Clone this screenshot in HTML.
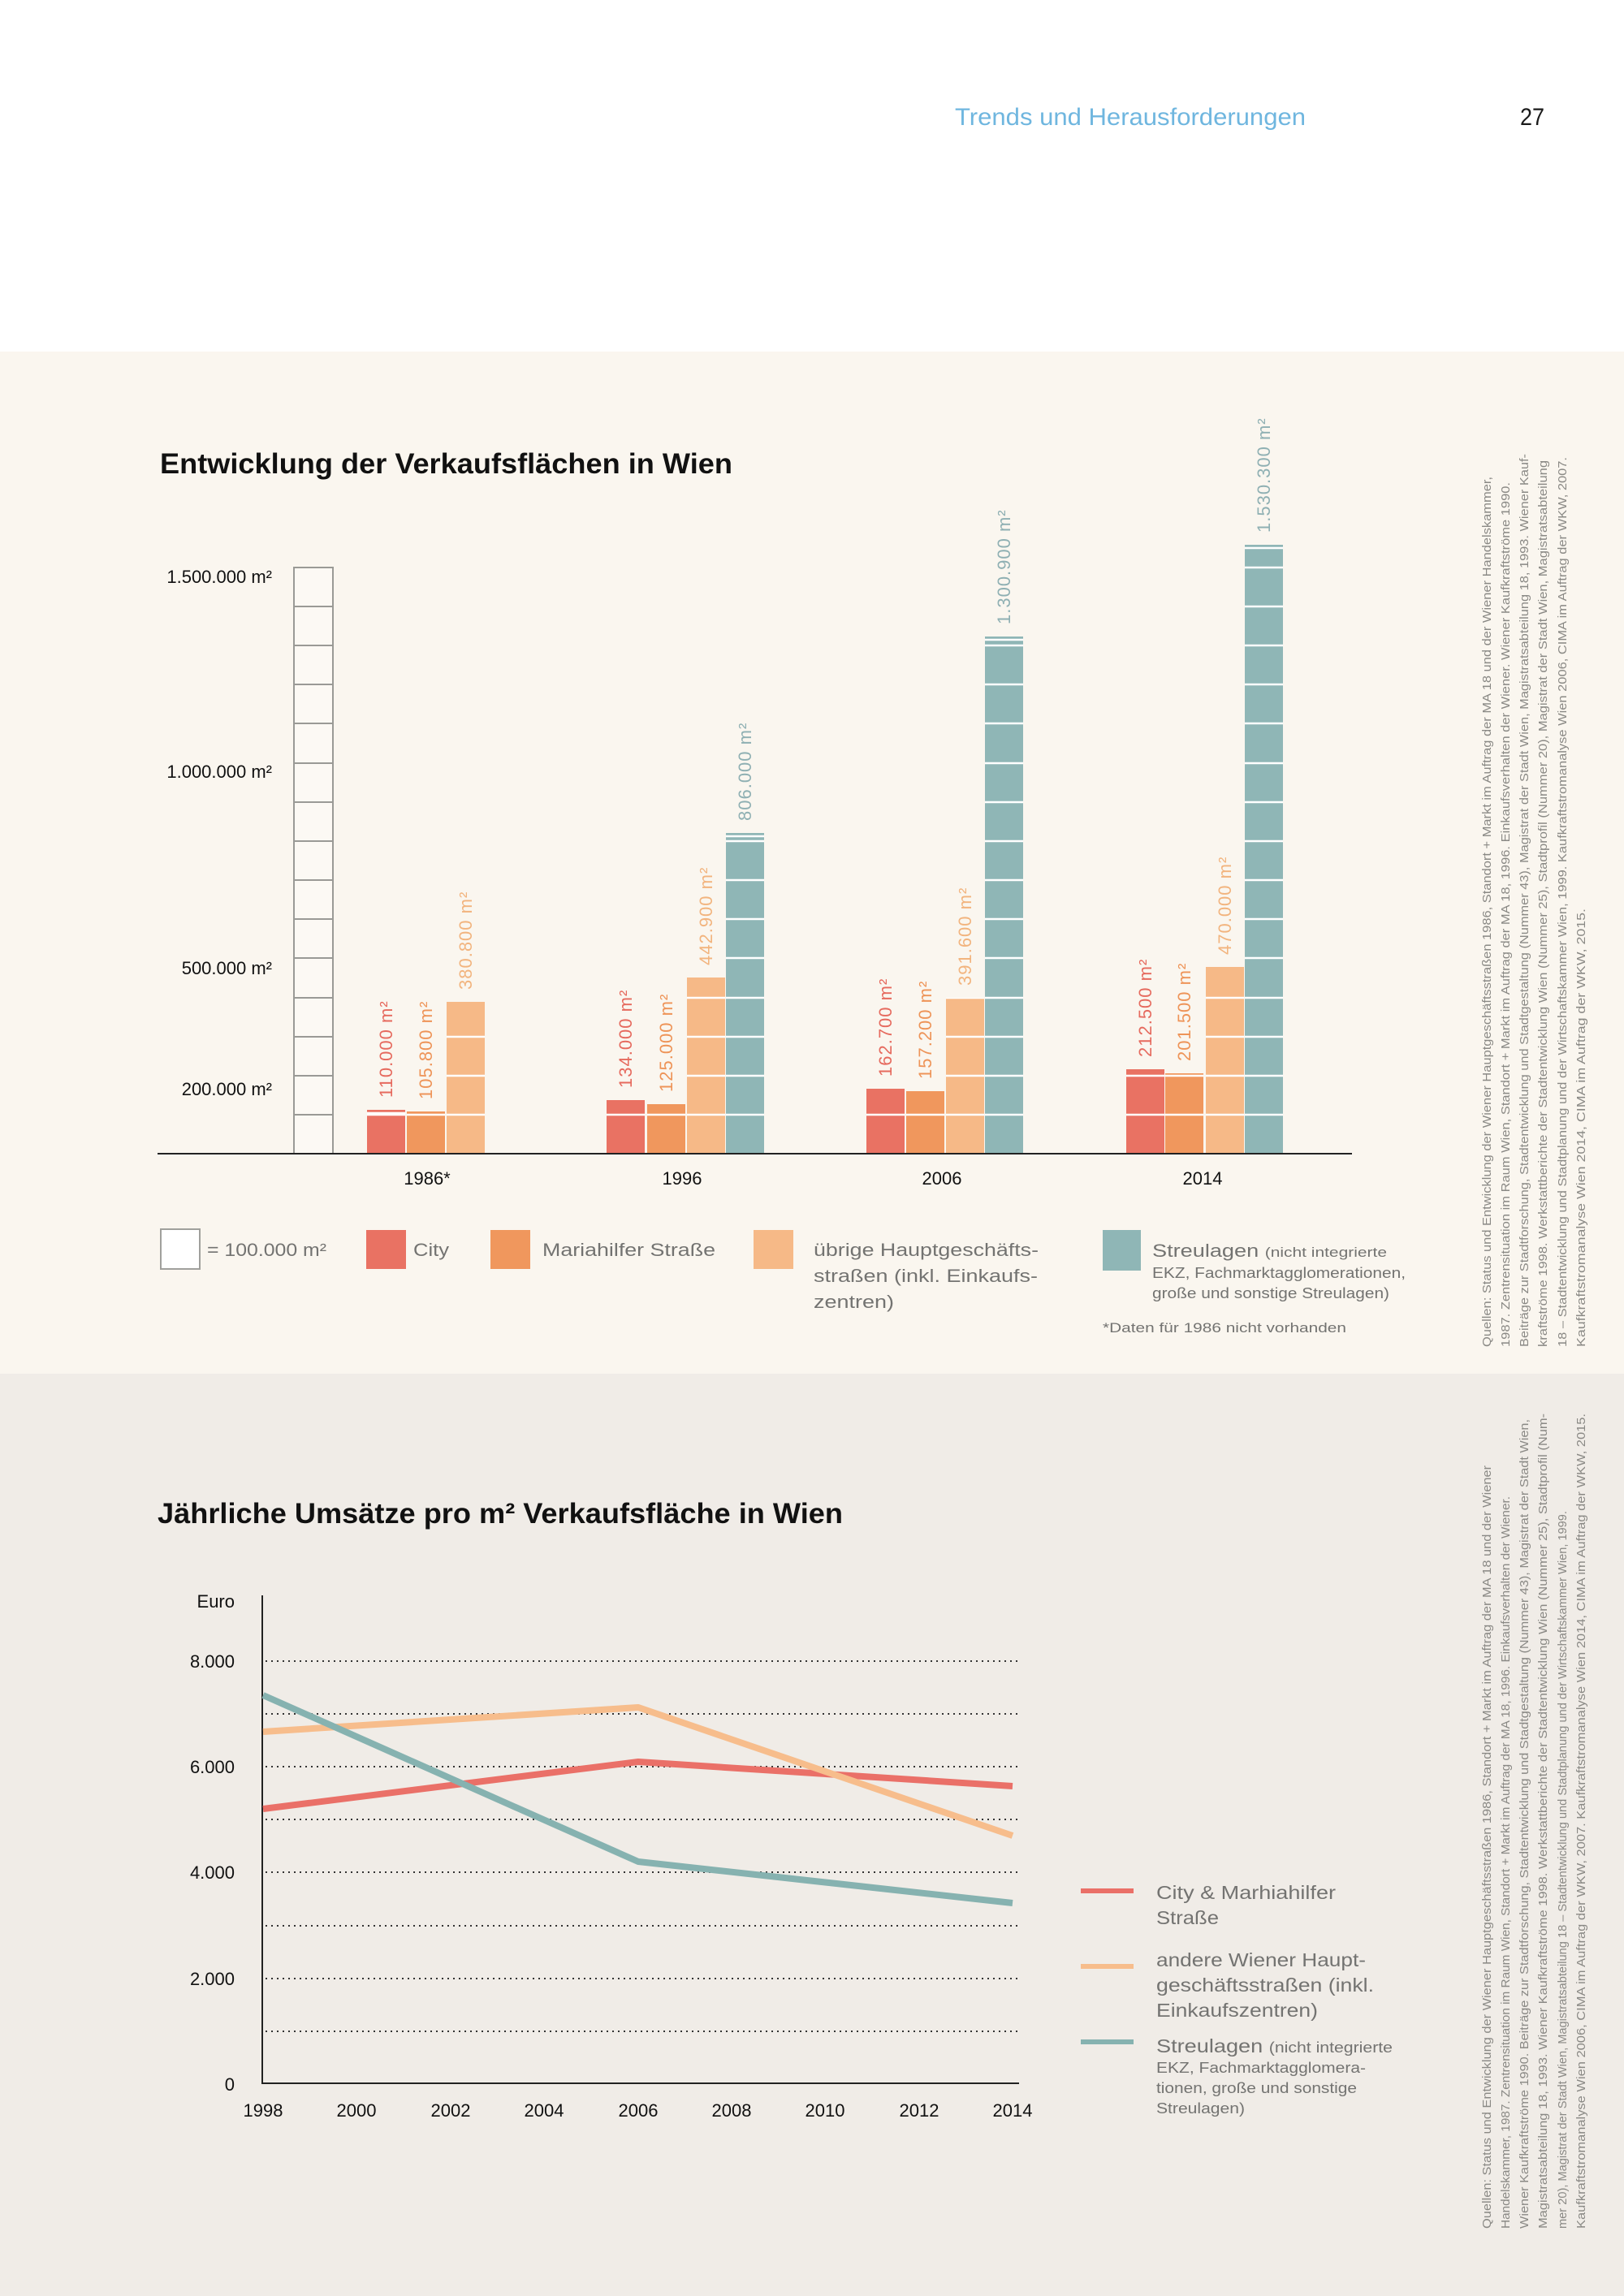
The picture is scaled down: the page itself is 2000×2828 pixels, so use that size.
<!DOCTYPE html>
<html><head><meta charset="utf-8"><style>
html,body{margin:0;padding:0;}
svg{display:block;}
text{font-family:"Liberation Sans",sans-serif;}
</style></head><body>
<svg width="2000" height="2828" viewBox="0 0 2000 2828" xmlns="http://www.w3.org/2000/svg">
<rect x="0" y="0" width="2000" height="433" fill="#ffffff"/>
<rect x="0" y="433" width="2000" height="1259" fill="#faf6ef"/>
<rect x="0" y="1692" width="2000" height="1136" fill="#f0ece7"/>

<!-- header -->
<text x="1176" y="154" font-size="30" fill="#6fb6df" textLength="432" lengthAdjust="spacingAndGlyphs">Trends und Herausforderungen</text>
<text x="1872" y="154" font-size="30" fill="#1a1a1a" textLength="30" lengthAdjust="spacingAndGlyphs">27</text>

<!-- bar chart title -->
<text x="197" y="583" font-size="35" font-weight="bold" fill="#111" textLength="705" lengthAdjust="spacingAndGlyphs">Entwicklung der Verkaufsflächen in Wien</text>

<!-- scale box -->
<g stroke="#9a9a96" stroke-width="2" fill="none">
<rect x="362" y="699" width="48" height="722" fill="#ffffff" fill-opacity="0.35"/>
<path d="M362 1373H410M362 1325H410M362 1277H410M362 1229H410M362 1180H410M362 1132H410M362 1084H410M362 1036H410M362 988H410M362 940H410M362 891H410M362 843H410M362 795H410M362 747H410"/>
</g>
<g font-size="22" fill="#111" text-anchor="end">
<text x="335" y="718">1.500.000 m²</text>
<text x="335" y="958">1.000.000 m²</text>
<text x="335" y="1200">500.000 m²</text>
<text x="335" y="1349">200.000 m²</text>
</g>

<defs>
<clipPath id="bars">
<rect x="452" y="1367" width="47" height="54"/><rect x="501" y="1369" width="47" height="52"/><rect x="550" y="1234" width="47" height="187"/>
<rect x="747" y="1355" width="47" height="66"/><rect x="797" y="1360" width="47" height="61"/><rect x="846" y="1204" width="47" height="217"/><rect x="894" y="1026" width="47" height="395"/>
<rect x="1067" y="1341" width="47" height="80"/><rect x="1116" y="1344" width="47" height="77"/><rect x="1165" y="1229" width="47" height="192"/><rect x="1213" y="784" width="47" height="637"/>
<rect x="1387" y="1317" width="47" height="104"/><rect x="1435" y="1322" width="47" height="99"/><rect x="1485" y="1191" width="47" height="230"/><rect x="1533" y="671" width="47" height="750"/>
</clipPath>
</defs>
<g>
<rect x="452" y="1367" width="47" height="54" fill="#e97263"/><rect x="501" y="1369" width="47" height="52" fill="#f0975d"/><rect x="550" y="1234" width="47" height="187" fill="#f6b987"/>
<rect x="747" y="1355" width="47" height="66" fill="#e97263"/><rect x="797" y="1360" width="47" height="61" fill="#f0975d"/><rect x="846" y="1204" width="47" height="217" fill="#f6b987"/><rect x="894" y="1026" width="47" height="395" fill="#8fb6b6"/>
<rect x="1067" y="1341" width="47" height="80" fill="#e97263"/><rect x="1116" y="1344" width="47" height="77" fill="#f0975d"/><rect x="1165" y="1229" width="47" height="192" fill="#f6b987"/><rect x="1213" y="784" width="47" height="637" fill="#8fb6b6"/>
<rect x="1387" y="1317" width="47" height="104" fill="#e97263"/><rect x="1435" y="1322" width="47" height="99" fill="#f0975d"/><rect x="1485" y="1191" width="47" height="230" fill="#f6b987"/><rect x="1533" y="671" width="47" height="750" fill="#8fb6b6"/>
</g>
<g clip-path="url(#bars)" stroke="#ffffff" stroke-width="2.5">
<path d="M440 1373H1590M440 1325H1590M440 1277H1590M440 1229H1590M440 1180H1590M440 1132H1590M440 1084H1590M440 1036H1590M440 988H1590M440 940H1590M440 891H1590M440 843H1590M440 795H1590M440 747H1590M440 699H1590"/>
<path d="M452 1371H499M894 1030H941M1213 788H1260M1533 675H1580"/>
</g>
<line x1="194" y1="1421" x2="1665" y2="1421" stroke="#222" stroke-width="2"/>

<!-- value labels -->
<g font-size="22" letter-spacing="1">
<text transform="translate(483,1352) rotate(-90)" fill="#e66a5e">110.000 m²</text>
<text transform="translate(532,1354) rotate(-90)" fill="#ee9458">105.800 m²</text>
<text transform="translate(581,1219) rotate(-90)" fill="#f2b47e">380.800 m²</text>
<text transform="translate(778,1340) rotate(-90)" fill="#e66a5e">134.000 m²</text>
<text transform="translate(828,1345) rotate(-90)" fill="#ee9458">125.000 m²</text>
<text transform="translate(877,1189) rotate(-90)" fill="#f2b47e">442.900 m²</text>
<text transform="translate(925,1011) rotate(-90)" fill="#8fb0b3">806.000 m²</text>
<text transform="translate(1098,1326) rotate(-90)" fill="#e66a5e">162.700 m²</text>
<text transform="translate(1147,1329) rotate(-90)" fill="#ee9458">157.200 m²</text>
<text transform="translate(1196,1214) rotate(-90)" fill="#f2b47e">391.600 m²</text>
<text transform="translate(1244,769) rotate(-90)" fill="#8fb0b3">1.300.900 m²</text>
<text transform="translate(1418,1302) rotate(-90)" fill="#e66a5e">212.500 m²</text>
<text transform="translate(1466,1307) rotate(-90)" fill="#ee9458">201.500 m²</text>
<text transform="translate(1516,1176) rotate(-90)" fill="#f2b47e">470.000 m²</text>
<text transform="translate(1564,656) rotate(-90)" fill="#8fb0b3">1.530.300 m²</text>
</g>

<g font-size="22" fill="#111" text-anchor="middle">
<text x="526" y="1459">1986*</text>
<text x="840" y="1459">1996</text>
<text x="1160" y="1459">2006</text>
<text x="1481" y="1459">2014</text>
</g>

<!-- legend -->
<rect x="198" y="1514" width="48" height="49" fill="#fff" stroke="#a0a09c" stroke-width="2"/>
<rect x="451" y="1515" width="49" height="48" fill="#e97263"/>
<rect x="604" y="1515" width="49" height="48" fill="#f0975d"/>
<rect x="928" y="1515" width="49" height="48" fill="#f6b987"/>
<rect x="1358" y="1515" width="47" height="50" fill="#8fb6b6"/>
<g font-size="22" fill="#737371">
<text x="255" y="1547" textLength="147" lengthAdjust="spacingAndGlyphs">= 100.000 m²</text>
<text x="509" y="1547" textLength="44" lengthAdjust="spacingAndGlyphs">City</text>
<text x="668" y="1547" textLength="213" lengthAdjust="spacingAndGlyphs">Mariahilfer Straße</text>
<text x="1002" y="1547" textLength="277" lengthAdjust="spacingAndGlyphs">übrige Hauptgeschäfts-</text>
<text x="1002" y="1579" textLength="276" lengthAdjust="spacingAndGlyphs">straßen (inkl. Einkaufs-</text>
<text x="1002" y="1611" textLength="99" lengthAdjust="spacingAndGlyphs">zentren)</text>
<text x="1419" y="1548" textLength="289" lengthAdjust="spacingAndGlyphs"><tspan font-size="22">Streulagen </tspan><tspan font-size="17">(nicht integrierte</tspan></text>
<text x="1419" y="1574" font-size="18" textLength="312" lengthAdjust="spacingAndGlyphs">EKZ, Fachmarktagglomerationen,</text>
<text x="1419" y="1599" font-size="18" textLength="292" lengthAdjust="spacingAndGlyphs">große und sonstige Streulagen)</text>
<text x="1358" y="1641" font-size="17" textLength="300" lengthAdjust="spacingAndGlyphs">*Daten für 1986 nicht vorhanden</text>
</g>

<!-- side note 1 -->
<g font-size="15" fill="#8a8985">
<text transform="translate(1836,1659) rotate(-90)" textLength="1072" lengthAdjust="spacingAndGlyphs">Quellen: Status und Entwicklung der Wiener Hauptgeschäftsstraßen 1986, Standort + Markt im Auftrag der MA 18 und der Wiener Handelskammer,</text>
<text transform="translate(1859,1659) rotate(-90)" textLength="1065" lengthAdjust="spacingAndGlyphs">1987. Zentrensituation im Raum Wien, Standort + Markt im Auftrag der MA 18, 1996. Einkaufsverhalten der Wiener. Wiener Kaufkraftströme 1990.</text>
<text transform="translate(1882,1659) rotate(-90)" textLength="1100" lengthAdjust="spacingAndGlyphs">Beiträge zur Stadtforschung, Stadtentwicklung und Stadtgestaltung (Nummer 43), Magistrat der Stadt Wien, Magistratsabteilung 18, 1993. Wiener Kauf-</text>
<text transform="translate(1905,1659) rotate(-90)" textLength="1092" lengthAdjust="spacingAndGlyphs">kraftströme 1998. Werkstattberichte der Stadtentwicklung Wien (Nummer 25), Stadtprofil (Nummer 20), Magistrat der Stadt Wien, Magistratsabteilung</text>
<text transform="translate(1929,1659) rotate(-90)" textLength="1096" lengthAdjust="spacingAndGlyphs">18 – Stadtentwicklung und Stadtplanung und der Wirtschaftskammer Wien, 1999. Kaufkraftstromanalyse Wien 2006, CIMA im Auftrag der WKW, 2007.</text>
<text transform="translate(1952,1659) rotate(-90)" textLength="540" lengthAdjust="spacingAndGlyphs">Kaufkraftstromanalyse Wien 2014, CIMA im Auftrag der WKW, 2015.</text>
</g>

<!-- line chart -->
<text x="194" y="1876" font-size="35" font-weight="bold" fill="#111" textLength="844" lengthAdjust="spacingAndGlyphs">Jährliche Umsätze pro m² Verkaufsfläche in Wien</text>
<g stroke="#333" stroke-width="2" stroke-dasharray="2,5">
<path d="M327 2046H1253M327 2111H1253M327 2176H1253M327 2241H1253M327 2306H1253M327 2372H1253M327 2437H1253M327 2502H1253"/>
</g>
<line x1="323" y1="1965" x2="323" y2="2567" stroke="#222" stroke-width="2"/>
<line x1="323" y1="2566" x2="1255" y2="2566" stroke="#222" stroke-width="2"/>
<g font-size="22" fill="#111" text-anchor="end">
<text x="289" y="1980">Euro</text>
<text x="289" y="2054">8.000</text>
<text x="289" y="2184">6.000</text>
<text x="289" y="2314">4.000</text>
<text x="289" y="2445">2.000</text>
<text x="289" y="2575">0</text>
</g>
<g font-size="22" fill="#111" text-anchor="middle">
<text x="324" y="2607">1998</text><text x="439" y="2607">2000</text><text x="555" y="2607">2002</text><text x="670" y="2607">2004</text><text x="786" y="2607">2006</text><text x="901" y="2607">2008</text><text x="1016" y="2607">2010</text><text x="1132" y="2607">2012</text><text x="1247" y="2607">2014</text>
</g>
<g fill="none" stroke-width="8" stroke-linejoin="round">
<polyline points="324,2228 786,2170 1247,2200" stroke="#ea7068"/>
<polyline points="324,2133 786,2103 1247,2261" stroke="#f7bd8c"/>
<polyline points="324,2088 786,2293 1247,2344" stroke="#86b2b0"/>
</g>
<g stroke-width="6">
<line x1="1331" y1="2329" x2="1396" y2="2329" stroke="#ea7068"/>
<line x1="1331" y1="2422" x2="1396" y2="2422" stroke="#f7bd8c"/>
<line x1="1331" y1="2515" x2="1396" y2="2515" stroke="#86b2b0"/>
</g>
<g font-size="23" fill="#737371">
<text x="1424" y="2339" textLength="221" lengthAdjust="spacingAndGlyphs">City &amp; Marhiahilfer</text>
<text x="1424" y="2370" textLength="77" lengthAdjust="spacingAndGlyphs">Straße</text>
<text x="1424" y="2422" textLength="258" lengthAdjust="spacingAndGlyphs">andere Wiener Haupt-</text>
<text x="1424" y="2453" textLength="268" lengthAdjust="spacingAndGlyphs">geschäftsstraßen (inkl.</text>
<text x="1424" y="2484" textLength="199" lengthAdjust="spacingAndGlyphs">Einkaufszentren)</text>
<text x="1424" y="2528" textLength="291" lengthAdjust="spacingAndGlyphs"><tspan font-size="23">Streulagen </tspan><tspan font-size="18">(nicht integrierte</tspan></text>
<text x="1424" y="2553" font-size="18" textLength="258" lengthAdjust="spacingAndGlyphs">EKZ, Fachmarktagglomera-</text>
<text x="1424" y="2578" font-size="18" textLength="247" lengthAdjust="spacingAndGlyphs">tionen, große und sonstige</text>
<text x="1424" y="2603" font-size="18" textLength="109" lengthAdjust="spacingAndGlyphs">Streulagen)</text>
</g>

<!-- side note 2 -->
<g font-size="15" fill="#8a8985">
<text transform="translate(1836,2745) rotate(-90)" textLength="940" lengthAdjust="spacingAndGlyphs">Quellen: Status und Entwicklung der Wiener Hauptgeschäftsstraßen 1986, Standort + Markt im Auftrag der MA 18 und der Wiener</text>
<text transform="translate(1859,2745) rotate(-90)" textLength="902" lengthAdjust="spacingAndGlyphs">Handelskammer, 1987. Zentrensituation im Raum Wien, Standort + Markt im Auftrag der MA 18, 1996. Einkaufsverhalten der Wiener.</text>
<text transform="translate(1882,2745) rotate(-90)" textLength="997" lengthAdjust="spacingAndGlyphs">Wiener Kaufkraftströme 1990. Beiträge zur Stadtforschung, Stadtentwicklung und Stadtgestaltung (Nummer 43), Magistrat der Stadt Wien,</text>
<text transform="translate(1905,2745) rotate(-90)" textLength="1004" lengthAdjust="spacingAndGlyphs">Magistratsabteilung 18, 1993. Wiener Kaufkraftströme 1998. Werkstattberichte der Stadtentwicklung Wien (Nummer 25), Stadtprofil (Num-</text>
<text transform="translate(1929,2745) rotate(-90)" textLength="884" lengthAdjust="spacingAndGlyphs">mer 20), Magistrat der Stadt Wien, Magistratsabteilung 18 – Stadtentwicklung und Stadtplanung und der Wirtschaftskammer Wien, 1999.</text>
<text transform="translate(1952,2745) rotate(-90)" textLength="1004" lengthAdjust="spacingAndGlyphs">Kaufkraftstromanalyse Wien 2006, CIMA im Auftrag der WKW, 2007. Kaufkraftstromanalyse Wien 2014, CIMA im Auftrag der WKW, 2015.</text>
</g>
</svg>
</body></html>
